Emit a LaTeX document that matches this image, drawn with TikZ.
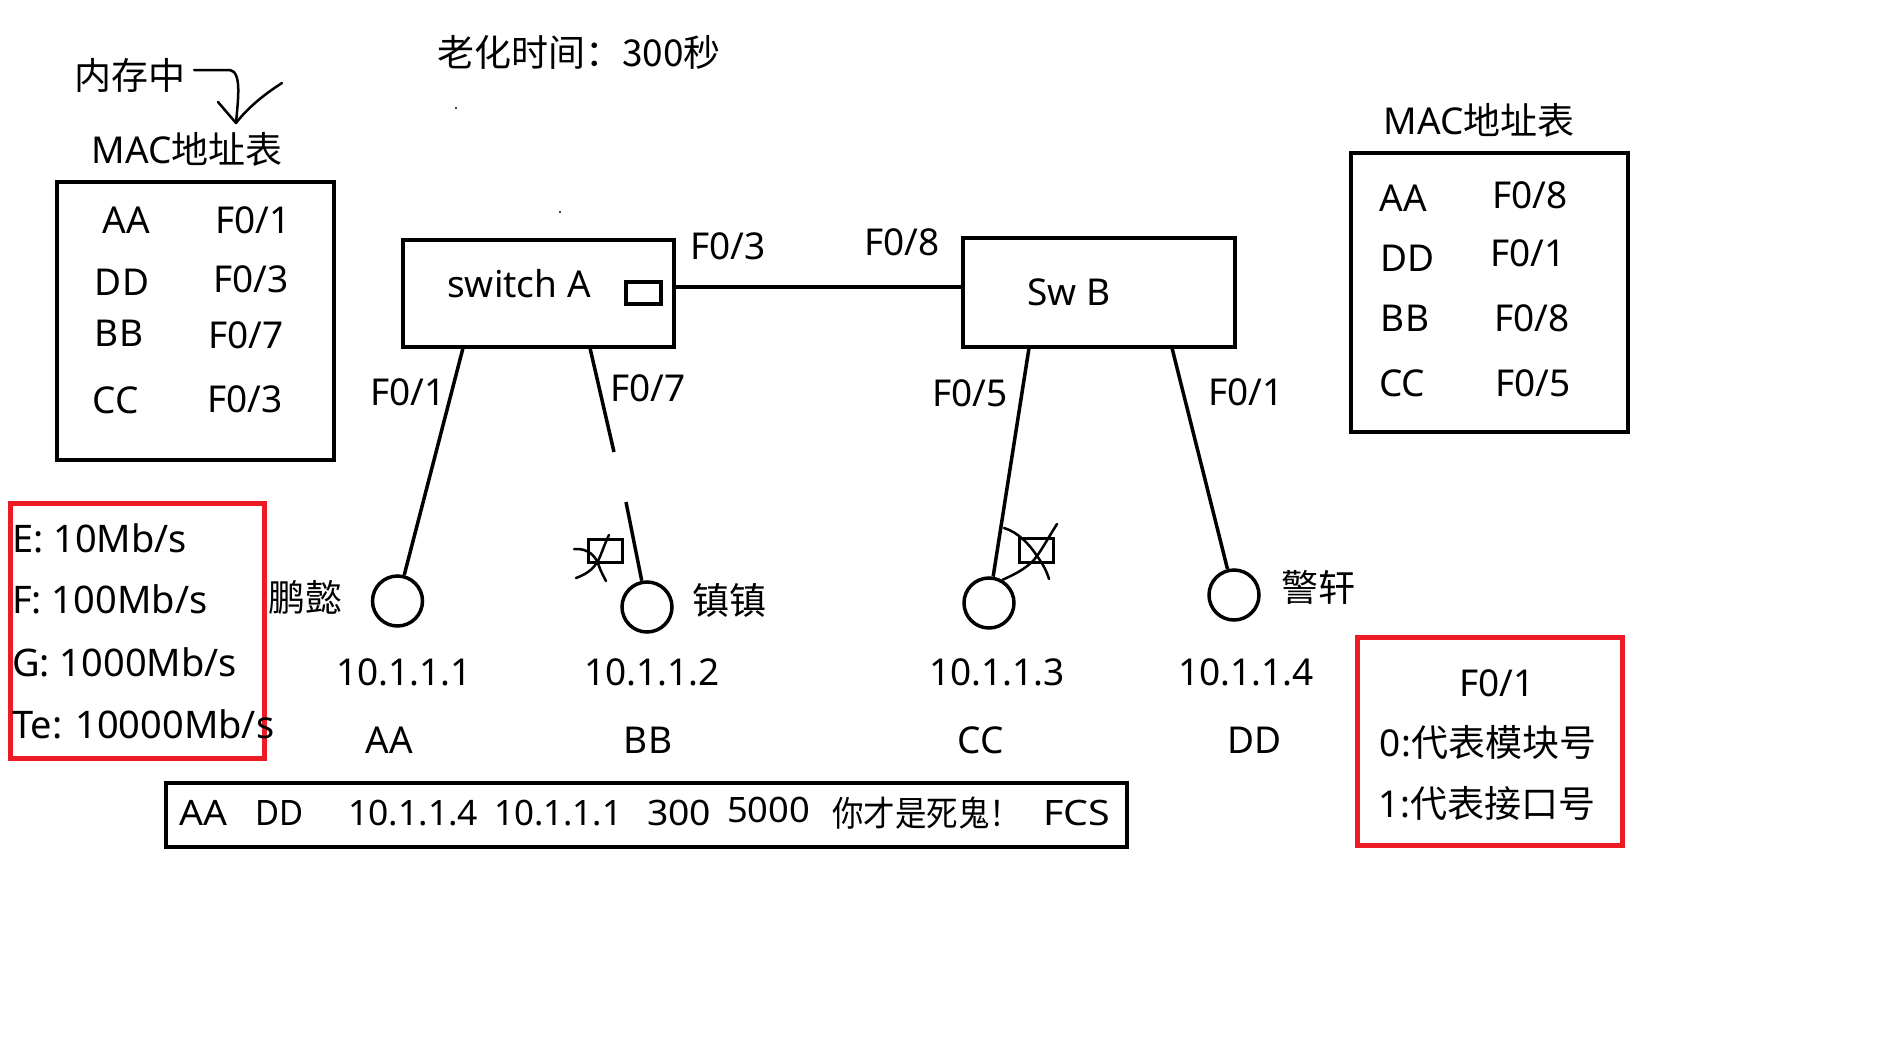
\documentclass[tikz,border=0pt]{standalone}
\usepackage{fontspec}
\usepackage{graphicx}
\setmainfont{Noto Sans}
\newfontfamily\cjk{Noto Sans CJK SC}
\definecolor{pcred}{HTML}{ED1C24}
\tikzset{
  lbl/.style={font=\fontsize{37}{44}\selectfont, inner sep=0pt},
  sml/.style={font=\fontsize{35}{42}\selectfont, inner sep=0pt},
  boxline/.style={draw, line width=4.5pt},
  wire/.style={line width=3.5pt},
  pc/.style={circle, draw, line width=3.5pt, minimum size=50pt, inner sep=0pt},
  redbox/.style={draw=pcred, line width=5pt},
  scrib/.style={line width=2.5pt, line cap=round, line join=round},
  portbox/.style={draw, line width=3.5pt},
}
\begin{document}
\begin{tikzpicture}[x=1pt,y=-1pt]
\useasboundingbox (0,0) rectangle (1898,1044);

% headings
\node[lbl] (memtxt) at (130,75) {\cjk 内存中};
\node[lbl] (age) at (579,52) {\cjk 老化时间：300秒};
\node[lbl] (macL) at (187,149) {MAC{\cjk 地址表}};
\node[lbl] (macR) at (1479,120) {MAC{\cjk 地址表}};

% hand arrow
\coordinate (arS) at (194,70);
\coordinate (arT) at (236,123);
\coordinate (arL) at (218,102);
\coordinate (arR) at (282,83);
\draw[scrib] (arS) -- (230,70) .. controls (242,72) and (238,100) .. (arT);
\draw[scrib] (arL) -- (arT) .. controls (250,105) and (268,92) .. (arR);

% stray dots
\fill (456,108) circle (1.2);
\fill (560,212) circle (1.2);

% left MAC table
\draw[boxline] (57,182) rectangle (334,460);
\node[lbl] (l1a) at (126,220) {AA};
\node[lbl] (l1b) at (253,220) {F0/1};
\node[lbl] (l2a) at (122,282) {DD};
\node[lbl] (l2b) at (251,279) {F0/3};
\node[lbl] (l3a) at (119,333) {BB};
\node[lbl] (l3b) at (246,335) {F0/7};
\node[lbl] (l4a) at (116,400) {CC};
\node[lbl] (l4b) at (245,399) {F0/3};

% right MAC table
\draw[boxline] (1351,153) rectangle (1628,432);
\node[lbl] (r1a) at (1403,198) {AA};
\node[lbl] (r1b) at (1530,195) {F0/8};
\node[lbl] (r2a) at (1407,258) {DD};
\node[lbl] (r2b) at (1528,253) {F0/1};
\node[lbl] (r3a) at (1405,318) {BB};
\node[lbl] (r3b) at (1532,318) {F0/8};
\node[lbl] (r4a) at (1402,383) {CC};
\node[lbl] (r4b) at (1533,383) {F0/5};

% switches
\node[boxline, minimum width=271pt, minimum height=107pt, inner sep=0pt] (swA) at (538.5,293.5) {};
\node[lbl] (swAt) at (519,284) {switch A};
\node[portbox, minimum width=35pt, minimum height=22pt, inner sep=0pt] (port) at (643.5,293) {};
\node[boxline, minimum width=272pt, minimum height=109pt, inner sep=0pt] (swB) at (1099,292.5) {};
\node[lbl] (swBt) at (1069,292) {Sw B};
\coordinate (lk) at (0,287);
\draw[wire] (swA.east |- lk) -- (swB.west |- lk);
\node[lbl] (p3) at (728,246) {F0/3};
\node[lbl] (p8) at (902,242) {F0/8};

% hosts
\node[pc] (hAA) at (397.5,601) {};
\node[pc] (hBB) at (647,607) {};
\node[pc] (hCC) at (989,603) {};
\node[pc] (hDD) at (1234,595) {};

\coordinate (a1) at (463,348);
\coordinate (a7) at (590,348);
\coordinate (a7e) at (614,452);
\coordinate (a7s) at (626,502);
\coordinate (b5) at (1029,348);
\coordinate (b1) at (1172,348);
\draw[wire] (a1) -- (hAA);
\draw[wire] (a7) -- (a7e);
\draw[wire] (a7s) -- (hBB);
\draw[wire] (b5) -- (hCC);
\draw[wire] (b1) -- (hDD);

\node[lbl] (pA1) at (408,392) {F0/1};
\node[lbl] (pA7) at (648,388) {F0/7};
\node[lbl] (pB5) at (970,393) {F0/5};
\node[lbl] (pB1) at (1246,392) {F0/1};

% crossed-out boxes
\node[portbox, minimum width=34pt, minimum height=23pt, inner sep=0pt] (xb1) at (605.5,551) {};
\draw[scrib] (574,549) .. controls (588,548) and (596,556) .. (599,566) .. controls (601,572) and (604,577) .. (606,581);
\draw[scrib] (609,535) .. controls (604,545) and (602,553) .. (598,561) .. controls (592,571) and (584,575) .. (576,578);
\node[portbox, minimum width=34pt, minimum height=24pt, inner sep=0pt] (xb2) at (1036.5,550.5) {};
\draw[scrib] (1004,528) .. controls (1018,532) and (1030,545) .. (1037,556) .. controls (1043,564) and (1047,572) .. (1049,579);
\draw[scrib] (1057,524) .. controls (1050,535) and (1044,546) .. (1037,556) .. controls (1030,566) and (1018,573) .. (hCC.60);

% host labels
\node[lbl] (nAA) at (305,597) {\cjk 鹏懿};
\node[lbl] (nBB) at (729,600) {\cjk 镇镇};
\node[lbl] (nDD) at (1318,587) {\cjk 警轩};
\node[lbl] (ip1) at (404,672) {10.1.1.1};
\node[lbl] (ip2) at (652,672) {10.1.1.2};
\node[lbl] (ip3) at (997,672) {10.1.1.3};
\node[lbl] (ip4) at (1246,672) {10.1.1.4};
\node[lbl] (mAA) at (389,740) {AA};
\node[lbl] (mBB) at (648,740) {BB};
\node[lbl] (mCC) at (981,740) {CC};
\node[lbl] (mDD) at (1254,740) {DD};

% left red box
\draw[redbox] (10,503) rectangle (264,758);
\node[lbl, font=\fontsize{38}{44}\selectfont, anchor=west] (sE) at (12,538) {E: 10Mb/s};
\node[lbl, font=\fontsize{38}{44}\selectfont, anchor=west] (sF) at (12,599) {F: 100Mb/s};
\node[lbl, font=\fontsize{38}{44}\selectfont, anchor=west] (sG) at (12,662) {G: 1000Mb/s};
\node[lbl, font=\fontsize{38}{44}\selectfont, anchor=west] (sT) at (12,724) {Te: 10000Mb/s};

% right red box
\draw[redbox] (1357,637) rectangle (1622,845);
\node[lbl] (q1) at (1497,683) {F0/1};
\node[lbl] (q2) at (1488,742) {0:{\cjk 代表模块号}};
\node[lbl] (q3) at (1487,803) {1:{\cjk 代表接口号}};

% frame box
\draw[boxline] (166,783) rectangle (1127,847);
\node[sml, anchor=west] (f1) at (179,813) {\resizebox{48pt}{\height}{AA}};
\node[sml, anchor=west] (f2) at (255,813) {\resizebox{48pt}{\height}{DD}};
\node[sml, anchor=west] (f3) at (348,813) {\resizebox{130pt}{\height}{10.1.1.4}};
\node[sml, anchor=west] (f4) at (494,813) {\resizebox{128pt}{\height}{10.1.1.1}};
\node[sml, anchor=west] (f5) at (647,813) {\resizebox{64pt}{\height}{300}};
\node[sml, anchor=west] (f6) at (727,810) {\resizebox{83pt}{\height}{5000}};
\node[sml, anchor=west] (f7) at (832,813) {\resizebox{189pt}{\height}{\cjk 你才是死鬼！}};
\node[sml, anchor=west] (f8) at (1043,813) {\resizebox{67pt}{\height}{FCS}};
\end{tikzpicture}
\end{document}
